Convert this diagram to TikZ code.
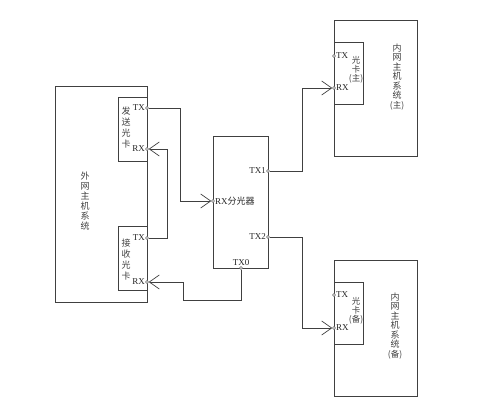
\documentclass[tikz,border=0pt]{standalone}
\usepackage{fontspec}
\setmainfont{Liberation Serif}
\newfontfamily\cjk{Noto Sans CJK SC}
\usetikzlibrary{arrows.meta}
\begin{document}
\begin{tikzpicture}[x=1pt,y=-1pt,
 box/.style={draw=black!75, line width=0.7pt, rectangle, inner sep=0pt},
 port/.style={circle, draw=black!60, fill=white, inner sep=0pt, minimum size=3pt, line width=0.4pt},
 wire/.style={draw=black!75, line width=0.7pt},
 arr/.style={-{Straight Barb[length=10pt,width=14pt,line width=0.7pt]}},
 lbl/.style={font=\fontsize{9}{9}\selectfont, inner sep=0pt, text=black!85},
 vt/.style={font=\cjk\fontsize{9}{10}\selectfont, align=center, inner sep=0pt, text=black!75},
 vts/.style={font=\cjk\fontsize{8.5}{9}\selectfont, align=center, inner sep=0pt, text=black!75}]

\useasboundingbox (0,0) rectangle (478,406);

% boxes
\node[box, minimum width=92pt, minimum height=216pt] (outer) at (101,194) {};
\node[box, minimum width=29pt, minimum height=64pt] (send) at (132.5,129) {};
\node[box, minimum width=29pt, minimum height=64pt] (recv) at (132.5,258) {};
\node[box, minimum width=55pt, minimum height=132pt] (split) at (240.5,202) {};
\node[box, minimum width=83pt, minimum height=136pt] (inmain) at (375.5,88) {};
\node[box, minimum width=29pt, minimum height=62pt] (maincard) at (348.5,73) {};
\node[box, minimum width=83pt, minimum height=136pt] (inbak) at (375.5,328) {};
\node[box, minimum width=29pt, minimum height=62pt] (bakcard) at (348.5,313) {};

% texts
\node[vt] (t_outer) at (85,201) {外\\网\\主\\机\\系\\统};
\node[vt, font=\cjk\fontsize{9}{11}\selectfont] (t_send) at (126,128) {发\\送\\光\\卡};
\node[vt, font=\cjk\fontsize{9}{11}\selectfont] (t_recv) at (126,260) {接\\收\\光\\卡};
\node[vt, font=\cjk\fontsize{9}{9.5}\selectfont] (t_inmain) at (397,77) {内\\网\\主\\机\\系\\统\\{\fontsize{8.5}{9.5}\selectfont(主)}};
\node[vts] (t_maincard) at (356,70) {光\\卡\\{\fontsize{8.5}{9}\selectfont(主)}};
\node[vt, font=\cjk\fontsize{9}{9.5}\selectfont] (t_inbak) at (395,326) {内\\网\\主\\机\\系\\统\\{\fontsize{8.5}{9.5}\selectfont(备)}};
\node[vts] (t_bakcard) at (356,311) {光\\卡\\{\fontsize{8.5}{9}\selectfont(备)}};

% ports
\node[port] (sendTX) at (147,108) {};
\node[port] (sendRX) at (147,149) {};
\node[port] (recvTX) at (147,238) {};
\node[port] (recvRX) at (147,282) {};
\node[port] (splRX) at (213,201) {};
\node[port] (TX1) at (268,171) {};
\node[port] (TX2) at (268,237) {};
\node[port] (TX0) at (241,268) {};
\node[port] (mainTX) at (334,56) {};
\node[port] (mainRX) at (334,88) {};
\node[port] (bakTX) at (334,295) {};
\node[port] (bakRX) at (334,328) {};

% port labels
\node[lbl, anchor=east] (l_sendTX) at (145,108) {TX};
\node[lbl, anchor=east] (l_sendRX) at (145,149) {RX};
\node[lbl, anchor=east] (l_recvTX) at (145,238) {TX};
\node[lbl, anchor=east] (l_recvRX) at (145,282) {RX};
\node[lbl, anchor=west] (l_splRX) at (215,201) {RX{\cjk 分光器}};
\node[lbl, anchor=east] (l_TX1) at (266,171) {TX1};
\node[lbl, anchor=east] (l_TX2) at (266,237) {TX2};
\node[lbl, anchor=base] (l_TX0) at (241,265) {TX0};
\node[lbl, anchor=west] (l_mainTX) at (336,56) {TX};
\node[lbl, anchor=west] (l_mainRX) at (336,88) {RX};
\node[lbl, anchor=west] (l_bakTX) at (336,295) {TX};
\node[lbl, anchor=west] (l_bakRX) at (336,328) {RX};

% wires
\draw[wire,arr] (sendTX) -- ++(33,0) |- (splRX);
\draw[wire,arr] (recvTX) -- ++(20,0) |- (sendRX);
\draw[wire,arr] (TX0) -- ++(0,32) -- ++(-58,0) |- (recvRX);
\draw[wire,arr] (TX1) -- ++(34,0) |- (mainRX);
\draw[wire,arr] (TX2) -- ++(34,0) |- (bakRX);
\end{tikzpicture}
\end{document}
